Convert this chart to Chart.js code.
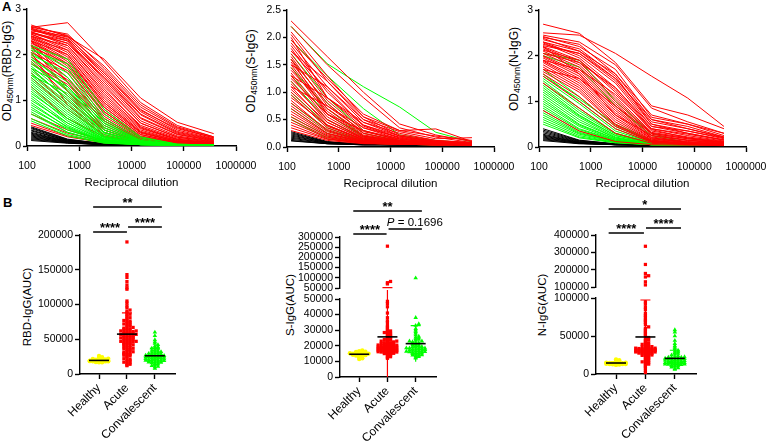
<!DOCTYPE html>
<html>
<head>
<meta charset="utf-8">
<script src="https://cdn.jsdelivr.net/npm/chart.js@4.4.1/dist/chart.umd.min.js"></script>
<style>
  html, body { margin: 0; padding: 0; background: #fff; }
  body { width: 766px; height: 441px; position: relative; overflow: hidden; font-family: "Liberation Sans", Arial, sans-serif; color: #000; }
  canvas { position: absolute; }
  .ytitle { position: absolute; white-space: nowrap; font-size: 12px; line-height: 1; transform: translate(-50%, -50%) rotate(-90deg); }
  .ytitle sub { font-size: 8.5px; vertical-align: -2px; }
  .btitle { font-size: 11.5px; }
  .letter { position: absolute; font-weight: bold; font-size: 13px; line-height: 1; }
</style>
</head>
<body>
<div class="letter" style="left:2px;top:0px">A</div>
<div class="letter" style="left:3px;top:196px">B</div>

<div class="ytitle" style="left:8px;top:71px">OD<sub>450nm</sub>(RBD-IgG)</div>
<div class="ytitle" style="left:252px;top:71px">OD<sub>450nm</sub>(S-IgG)</div>
<div class="ytitle" style="left:515px;top:69px">OD<sub>450nm</sub>(N-IgG)</div>
<div class="ytitle btitle" style="left:28px;top:307px">RBD-IgG(AUC)</div>
<div class="ytitle btitle" style="left:291px;top:305px">S-IgG(AUC)</div>
<div class="ytitle btitle" style="left:543px;top:305px">N-IgG(AUC)</div>

<canvas id="a1" width="260" height="195" style="left:0;top:0"></canvas>
<canvas id="a2" width="270" height="195" style="left:245px;top:0"></canvas>
<canvas id="a3" width="261" height="195" style="left:505px;top:0"></canvas>
<canvas id="b1" width="190" height="246" style="left:0;top:195px"></canvas>
<canvas id="b2top" width="190" height="100" style="left:260px;top:195px"></canvas>
<canvas id="b2bot" width="190" height="151" style="left:260px;top:290px"></canvas>
<canvas id="b3top" width="190" height="100" style="left:516px;top:195px"></canvas>
<canvas id="b3bot" width="190" height="151" style="left:516px;top:290px"></canvas>

<script>
// ---- data: dilution curves (OD450 at each reciprocal dilution) ----
const DILUTIONS = [120, 600, 3000, 15000, 75000, 375000];
const LOG_TICKS = [100, 1000, 10000, 100000, 1000000];

const RBD_RED = [
  [2.65,2.4,1.9,1.05,0.52,0.27], [2.6,2.7,1.85,0.95,0.45,0.2], [2.6,2.45,1.7,0.85,0.4,0.18],
  [2.58,2.38,1.65,0.8,0.35,0.16], [2.55,2.35,1.55,0.7,0.3,0.14], [2.55,2.3,1.5,0.62,0.26,0.12],
  [2.52,2.4,1.6,0.75,0.32,0.15], [2.5,2.25,1.4,0.55,0.22,0.1], [2.5,2.2,1.3,0.5,0.2,0.09],
  [2.48,2.3,1.45,0.6,0.25,0.11], [2.45,2.1,1.2,0.45,0.17,0.08], [2.45,2.15,1.25,0.42,0.15,0.07],
  [2.42,2.05,1.1,0.38,0.14,0.07], [2.4,2.2,1.35,0.5,0.19,0.09], [2.4,2.0,1.0,0.32,0.12,0.06],
  [2.38,1.95,0.95,0.3,0.1,0.05], [2.35,2.1,1.15,0.4,0.14,0.06], [2.35,1.9,0.9,0.28,0.1,0.05],
  [2.32,1.85,0.85,0.25,0.09,0.05], [2.3,2.0,1.05,0.35,0.12,0.06], [2.3,1.8,0.8,0.22,0.08,0.04],
  [2.28,1.75,0.75,0.2,0.07,0.04], [2.25,1.9,0.95,0.3,0.1,0.05], [2.22,1.7,0.7,0.18,0.07,0.04],
  [2.2,1.6,0.65,0.17,0.06,0.04], [2.18,1.8,0.85,0.25,0.08,0.04], [2.15,1.5,0.6,0.15,0.06,0.03],
  [2.1,1.4,0.55,0.14,0.05,0.03], [2.05,1.65,0.75,0.2,0.07,0.04], [2.0,1.3,0.5,0.12,0.05,0.03],
  [1.95,1.45,0.6,0.15,0.06,0.03], [1.9,1.2,0.45,0.11,0.04,0.03], [1.85,1.1,0.4,0.1,0.04,0.03],
  [1.8,1.35,0.55,0.13,0.05,0.03], [1.7,1.0,0.35,0.09,0.04,0.03], [1.6,0.9,0.3,0.08,0.04,0.03],
  [2.3,1.4,0.35,0.1,0.04,0.03], [2.2,1.2,0.3,0.08,0.04,0.03], [2.05,0.9,0.22,0.07,0.03,0.02],
  [1.5,0.8,0.25,0.07,0.03,0.02], [1.3,0.6,0.2,0.06,0.03,0.02], [0.7,0.35,0.12,0.05,0.03,0.02],
  [0.6,0.28,0.1,0.05,0.03,0.02], [0.5,0.22,0.08,0.04,0.03,0.02], [0.45,0.2,0.07,0.04,0.02,0.02],
  [2.62,2.42,1.75,0.9,0.42,0.2], [2.57,2.33,1.6,0.78,0.38,0.18], [2.47,2.25,1.5,0.68,0.28,0.13],
];
const RBD_GREEN = [
  [2.2,1.9,0.8,0.2,0.04,0.02], [2.15,1.7,0.6,0.15,0.03,0.02], [2.1,1.8,0.7,0.18,0.04,0.02],
  [2.05,1.5,0.5,0.12,0.03,0.02], [2.0,1.6,0.55,0.12,0.03,0.02], [1.95,1.3,0.4,0.1,0.03,0.02],
  [1.9,1.4,0.45,0.1,0.03,0.02], [1.85,1.2,0.35,0.08,0.03,0.02], [1.8,1.25,0.4,0.09,0.03,0.02],
  [1.75,1.1,0.3,0.07,0.02,0.02], [1.7,1.0,0.28,0.07,0.02,0.02], [1.65,1.05,0.3,0.07,0.02,0.02],
  [1.6,0.95,0.25,0.06,0.02,0.02], [1.55,0.9,0.22,0.06,0.02,0.02], [1.5,0.85,0.2,0.05,0.02,0.02],
  [1.45,0.8,0.2,0.05,0.02,0.02], [1.4,0.75,0.18,0.05,0.02,0.02], [1.35,0.7,0.17,0.05,0.02,0.02],
  [1.3,0.65,0.15,0.04,0.02,0.02], [1.25,0.6,0.14,0.04,0.02,0.02], [1.2,0.55,0.13,0.04,0.02,0.02],
  [1.15,0.6,0.15,0.04,0.02,0.02], [1.1,0.5,0.12,0.04,0.02,0.02], [1.05,0.45,0.11,0.04,0.02,0.02],
  [1.0,0.5,0.12,0.04,0.02,0.02], [0.95,0.4,0.1,0.03,0.02,0.02], [0.9,0.42,0.1,0.03,0.02,0.02],
  [0.85,0.35,0.09,0.03,0.02,0.02], [0.8,0.38,0.1,0.03,0.02,0.02], [0.75,0.3,0.08,0.03,0.02,0.02],
  [0.7,0.3,0.08,0.03,0.02,0.02], [0.6,0.25,0.07,0.03,0.02,0.02], [0.55,0.22,0.06,0.03,0.02,0.02],
  [1.55,1.15,0.35,0.08,0.03,0.02], [1.7,1.3,0.5,0.1,0.03,0.02],
];
const RBD_BLACK = [
  [0.42,0.15,0.05,0.03,0.02,0.02], [0.4,0.14,0.05,0.03,0.02,0.02], [0.38,0.13,0.05,0.03,0.02,0.02],
  [0.35,0.12,0.04,0.03,0.02,0.02], [0.33,0.12,0.04,0.03,0.02,0.02], [0.3,0.11,0.04,0.03,0.02,0.02],
  [0.28,0.1,0.04,0.02,0.02,0.02], [0.26,0.1,0.04,0.02,0.02,0.02], [0.24,0.09,0.03,0.02,0.02,0.02],
  [0.22,0.09,0.03,0.02,0.02,0.02], [0.2,0.08,0.03,0.02,0.02,0.02], [0.18,0.08,0.03,0.02,0.02,0.02],
  [0.16,0.07,0.03,0.02,0.02,0.02], [0.14,0.07,0.03,0.02,0.02,0.02], [0.12,0.06,0.03,0.02,0.02,0.02],
];

const S_RED = [
  [2.3,1.65,1.0,0.42,0.22,0.1], [2.2,1.5,0.9,0.35,0.18,0.08], [2.1,1.3,0.55,0.3,0.33,0.1],
  [2.05,1.2,0.5,0.28,0.15,0.17], [1.9,1.1,0.45,0.25,0.12,0.08], [1.85,1.0,0.4,0.2,0.1,0.07],
  [1.8,0.9,0.35,0.18,0.1,0.06], [1.75,1.05,0.38,0.16,0.09,0.06], [1.7,0.85,0.3,0.15,0.08,0.05],
  [1.65,0.75,0.28,0.14,0.08,0.05], [1.6,0.8,0.25,0.12,0.07,0.05], [1.55,0.7,0.22,0.11,0.07,0.05],
  [1.5,0.65,0.2,0.1,0.06,0.05], [1.45,0.6,0.2,0.1,0.06,0.04], [1.4,0.7,0.25,0.11,0.06,0.04],
  [1.35,0.55,0.18,0.09,0.06,0.04], [1.3,0.5,0.17,0.09,0.05,0.04], [1.25,0.6,0.2,0.1,0.06,0.04],
  [1.2,0.45,0.15,0.08,0.05,0.04], [1.15,0.5,0.16,0.08,0.05,0.04], [1.1,0.4,0.14,0.08,0.05,0.04],
  [1.05,0.45,0.15,0.08,0.05,0.04], [1.0,0.38,0.13,0.07,0.05,0.04], [0.95,0.35,0.12,0.07,0.05,0.04],
  [0.9,0.4,0.13,0.07,0.05,0.04], [0.85,0.3,0.11,0.07,0.05,0.04], [0.8,0.32,0.11,0.06,0.05,0.04],
  [0.75,0.28,0.1,0.06,0.05,0.04], [0.7,0.25,0.1,0.06,0.05,0.04], [0.65,0.24,0.09,0.06,0.04,0.04],
  [0.6,0.22,0.09,0.06,0.04,0.04], [0.55,0.2,0.08,0.06,0.04,0.04], [0.5,0.18,0.08,0.05,0.04,0.04],
  [0.45,0.17,0.07,0.05,0.04,0.04], [0.4,0.15,0.07,0.05,0.04,0.04], [0.35,0.14,0.07,0.05,0.04,0.04],
  [0.3,0.12,0.06,0.05,0.04,0.04], [1.95,1.25,0.6,0.3,0.2,0.12], [1.75,1.2,0.55,0.22,0.12,0.08],
  [1.5,1.1,0.5,0.2,0.1,0.07], [1.3,0.9,0.4,0.17,0.09,0.06], [1.6,0.6,0.3,0.12,0.07,0.05],
  [1.1,0.75,0.35,0.14,0.08,0.05], [2.0,0.9,0.45,0.2,0.1,0.06],
];
const S_GREEN = [
  [2.2,1.52,1.1,0.73,0.27,0.09], [1.95,1.3,0.7,0.22,0.12,0.07], [1.7,0.9,0.3,0.12,0.07,0.05],
  [1.6,0.8,0.25,0.1,0.06,0.05], [1.45,0.7,0.2,0.1,0.06,0.04], [1.3,0.6,0.18,0.09,0.05,0.04],
  [1.2,0.5,0.15,0.08,0.05,0.04], [1.0,0.4,0.12,0.07,0.05,0.04], [0.95,0.35,0.11,0.07,0.05,0.04],
  [0.8,0.3,0.1,0.06,0.05,0.04], [0.7,0.25,0.09,0.06,0.04,0.04], [0.55,0.2,0.08,0.05,0.04,0.04],
  [0.5,0.15,0.07,0.05,0.04,0.04],
];
const S_BLACK = [
  [0.28,0.1,0.05,0.04,0.04,0.04], [0.26,0.09,0.05,0.04,0.04,0.04], [0.24,0.09,0.05,0.04,0.04,0.04],
  [0.22,0.08,0.05,0.04,0.04,0.04], [0.2,0.08,0.05,0.04,0.04,0.04], [0.18,0.07,0.05,0.04,0.04,0.04],
  [0.16,0.07,0.04,0.04,0.04,0.04], [0.14,0.06,0.04,0.04,0.04,0.04], [0.12,0.06,0.04,0.04,0.04,0.04],
  [0.11,0.06,0.04,0.04,0.04,0.04],
];

const N_RED = [
  [2.69,2.49,1.85,0.9,0.7,0.4], [2.5,2.45,2.05,1.55,1.07,0.45], [2.45,2.3,1.8,0.85,0.55,0.3],
  [2.42,2.2,1.7,0.65,0.5,0.25], [2.4,2.25,1.6,0.6,0.45,0.22], [2.38,2.1,1.5,0.55,0.4,0.2],
  [2.35,2.15,1.55,0.5,0.35,0.18], [2.3,2.0,1.4,0.45,0.3,0.16], [2.28,1.95,1.3,0.4,0.28,0.15],
  [2.25,2.05,1.45,0.5,0.3,0.15], [2.2,1.9,1.2,0.35,0.22,0.12], [2.18,1.85,1.1,0.32,0.2,0.11],
  [2.15,1.8,1.05,0.3,0.18,0.1], [2.12,1.9,1.25,0.38,0.2,0.1], [2.1,1.75,1.0,0.28,0.15,0.09],
  [2.05,1.7,0.95,0.25,0.14,0.08], [2.0,1.65,0.9,0.22,0.12,0.08], [1.98,1.6,0.85,0.2,0.11,0.07],
  [1.95,1.55,0.8,0.2,0.1,0.07], [1.9,1.5,0.75,0.18,0.1,0.06], [1.88,1.45,0.7,0.17,0.09,0.06],
  [1.85,1.4,0.65,0.15,0.08,0.05], [1.8,1.35,0.6,0.14,0.08,0.05], [1.75,1.3,0.55,0.13,0.07,0.05],
  [1.7,1.25,0.5,0.12,0.07,0.05], [1.65,1.2,0.48,0.12,0.06,0.04], [1.6,1.1,0.45,0.11,0.06,0.04],
  [1.55,1.0,0.4,0.1,0.06,0.04], [1.4,0.85,0.3,0.08,0.05,0.04], [0.8,0.35,0.12,0.05,0.04,0.03],
  [2.2,1.6,0.7,0.25,0.15,0.1], [2.3,2.1,1.6,0.7,0.5,0.3], [2.05,1.85,1.3,0.45,0.35,0.2],
  [1.9,1.7,1.15,0.4,0.25,0.13], [1.7,1.5,0.9,0.3,0.18,0.1], [2.22,2.05,1.5,0.6,0.4,0.22],
];
const N_GREEN = [
  [2.0,1.75,0.9,0.25,0.08,0.04], [2.05,1.9,1.0,0.3,0.08,0.04], [1.7,1.1,0.45,0.12,0.05,0.04],
  [1.6,1.0,0.4,0.1,0.05,0.04], [1.5,0.95,0.35,0.1,0.05,0.04], [1.45,0.85,0.3,0.09,0.05,0.04],
  [1.4,0.8,0.3,0.09,0.05,0.04], [1.35,0.75,0.28,0.08,0.05,0.04], [1.3,0.7,0.25,0.08,0.05,0.04],
  [1.25,0.68,0.25,0.08,0.04,0.04], [1.2,0.65,0.22,0.07,0.04,0.04], [1.15,0.6,0.2,0.07,0.04,0.04],
  [1.1,0.55,0.2,0.07,0.04,0.04], [1.05,0.5,0.18,0.06,0.04,0.04], [1.0,0.48,0.17,0.06,0.04,0.04],
  [0.95,0.45,0.15,0.06,0.04,0.04], [0.9,0.4,0.15,0.06,0.04,0.04], [0.85,0.38,0.14,0.05,0.04,0.04],
  [0.8,0.35,0.13,0.05,0.04,0.04], [0.75,0.32,0.12,0.05,0.04,0.04], [0.7,0.3,0.12,0.05,0.04,0.04],
  [0.65,0.28,0.11,0.05,0.04,0.04], [0.6,0.25,0.1,0.05,0.04,0.04], [0.55,0.22,0.1,0.05,0.04,0.04],
  [0.5,0.2,0.09,0.05,0.04,0.04], [1.55,1.05,0.5,0.15,0.06,0.04],
];
const N_BLACK = [
  [0.4,0.15,0.07,0.05,0.04,0.04], [0.37,0.14,0.07,0.05,0.04,0.04], [0.34,0.13,0.06,0.05,0.04,0.04],
  [0.31,0.12,0.06,0.05,0.04,0.04], [0.28,0.11,0.06,0.04,0.04,0.04], [0.26,0.1,0.06,0.04,0.04,0.04],
  [0.24,0.1,0.05,0.04,0.04,0.04], [0.22,0.09,0.05,0.04,0.04,0.04], [0.2,0.09,0.05,0.04,0.04,0.04],
  [0.18,0.08,0.05,0.04,0.04,0.04], [0.16,0.08,0.05,0.04,0.04,0.04], [0.14,0.07,0.05,0.04,0.04,0.04],
];

// ---- data: AUC per subject ----
const CATEGORIES = ['Healthy', 'Acute', 'Convalescent'];

const RBD_HEALTHY = [17000,17500,17800,18000,18200,18400,18500,18600,18800,19000,19000,19200,19400,19500,19600,
  19800,20000,20200,20500,21000,21500,22000,23000,24000,26000,16800,17200,18100,18900,19300];
const RBD_ACUTE = [190000,143000,139000,133000,128000,124000,122000,105000,102000,98000,95000,92000,90000,88000,
  86000,85000,83000,81000,80000,78000,77000,76000,75000,74000,73000,72000,71000,70000,69000,68000,67000,66000,
  65000,64000,63500,63000,62000,61000,60500,60000,59000,58500,58000,57000,56000,55500,55000,54000,53000,52500,
  52000,51000,50000,49500,49000,48000,47000,46500,46000,45000,44000,43000,42000,41000,40000,39000,38000,37000,
  36000,35000,34000,33000,32000,31000,30000,29000,28000,27000,26000,25000,24000,22000,21000,20000,19000,18000,
  17000,16000,15000,14000,13000,12000,65000,62000,58000,55000,52000,48000,45000,42000,38000,35000,30000,28000,
  60000,57000,54000,50000,47000,44000];
const RBD_CONV = [60000,55000,49000,46000,44000,42000,40000,39000,38000,37000,36000,35000,34000,33000,32500,
  32000,31000,30500,30000,29500,29000,28500,28000,27500,27000,26500,26000,25500,25000,24500,24000,23500,23000,
  22500,22000,21500,21000,20500,20000,19500,19000,18500,18000,17500,17000,16500,16000,15500,15000,14000,13000,
  12000,11000,10000,8000,24000,23000,22000,26000,25000,21000,20000,27000,19000,18000];

const S_HEALTHY = [12000,13000,13500,14000,14200,14500,14700,15000,15200,15500,15800,16000,16500,17000,11500,
  13800,14800,15300,14400,13200,16200,14900];
const S_ACUTE = [255000,82000,76000,70000,48500,47000,45000,41000,38000,36000,35000,33000,32000,31000,30000,
  29500,29000,28500,28000,27500,27000,26500,26000,25500,25000,24500,24000,23500,23000,22500,22000,22000,21500,
  21000,21000,20500,20000,20000,19500,19500,19000,19000,18500,18500,18000,18000,17500,17500,17000,17000,16500,
  16000,16000,15500,15000,14500,14000,13500,13000,12500,12000,20000,21000,19000,18000,22000,23000,24000,17000,16000,
  17200,17800,18200,18800,19200,19800,20200,20800,16400,16800,17600,18400,19600,18600,17400,16200,15800,15200,
  20400,21200,19400,18300,17700,16600,15400,14800,19100,18900];
const S_CONV = [99000,38000,34000,33000,31000,30000,29000,28000,27000,26000,25500,25000,24500,24000,23500,23000,
  22500,22000,21500,21000,20500,20000,19500,19000,18500,18000,17500,17000,16500,16000,15500,15000,14500,14000,
  13500,13000,12500,12000,19000,20000,21000,18000,17000,16000,22000,23000,18500,19500,
  15200,16400,17200,14600,18200,15800,16800,14200,17600,15600,16200,18600,13800];

const N_HEALTHY = [12000,12500,13000,13000,13500,13500,14000,14000,14500,15000,15500,16000,17000,18000,19000,
  12800,13200,13800,14200,14800];
const N_ACUTE = [335000,230000,178000,165000,158000,130000,112000,95000,92000,88000,85000,80000,77000,75000,72000,
  70000,68000,65000,62000,60000,58000,56000,54000,52000,50000,48000,46000,45000,44000,42000,41000,40000,39000,
  38000,37000,36000,35000,34000,33000,33000,32000,32000,31000,31000,30000,30000,29000,29000,28000,28000,27000,
  26000,25000,24000,23000,22000,21000,20000,19000,18000,17000,16000,15000,14000,13000,12000,10000,8000,5000,2000,
  33000,31000,30000,34000,29000,32000,30500,31500,32500,29500,28500,27500,26500,33500,34500,30200,31800,25500,
  24500,35500,28800];
const N_CONV = [58000,55000,50000,44000,40000,37000,35000,33000,31000,30000,29000,28000,27000,26000,25000,24000,
  23000,22500,22000,21500,21000,20500,20000,19500,19000,18500,18000,17500,17000,16500,16000,15500,15000,14500,
  14000,13500,13000,12500,12000,11500,11000,10500,10000,9000,8000,7000,6000,18000,17000,16000,15000,14000,20000,
  19000,21000,13000,12000,22000,14200,13600,15400,16800,12400,17400,15800,14800];

// ---- styling ----
const RED = '#ff0000';
const GREEN = '#00ff00';
const YELLOW = '#ffff00';
const BLACK = '#000000';

Chart.defaults.font.family = '"Liberation Sans", Arial, sans-serif';
Chart.defaults.color = '#000';
Chart.defaults.animation = false;
Chart.defaults.plugins.legend.display = false;
Chart.defaults.plugins.tooltip.enabled = false;

function noPad(s) {
  s.paddingLeft = 0;
  s.paddingRight = 0;
  s.paddingTop = 0;
  s.paddingBottom = 0;
}

const axisGrid = { drawOnChartArea: false, tickLength: 5, tickColor: '#000', tickWidth: 1.4 };
const axisBorder = { color: '#000', width: 1.4 };

function curveSets(rows, color) {
  return rows.map((ys) => ({
    data: ys.map((y, i) => ({ x: DILUTIONS[i], y: y })),
    showLine: true,
    borderColor: color,
    borderWidth: 1,
    pointRadius: 0,
    tension: 0,
  }));
}

function curveChart(id, groups, yMax, yStep, yWidth, pad, fmt) {
  // first dataset ends up on top, so list front-most group first
  const datasets = [];
  groups.forEach((g) => datasets.push(...curveSets(g.rows, g.color)));
  return new Chart(document.getElementById(id), {
    type: 'scatter',
    data: { datasets },
    options: {
      responsive: false,
      layout: { padding: pad },
      scales: {
        x: {
          type: 'logarithmic',
          min: 100,
          max: 1000000,
          afterBuildTicks: (s) => { s.ticks = LOG_TICKS.map((v) => ({ value: v })); },
          ticks: { callback: (v) => String(v), autoSkip: false, maxRotation: 0, font: { size: 10.5 }, padding: 9 },
          grid: axisGrid,
          border: axisBorder,
          title: { display: true, text: 'Reciprocal dilution', font: { size: 11.5 }, padding: { top: 4, bottom: 4 } },
          afterFit: (s) => { s.height = 48; noPad(s); },
        },
        y: {
          min: 0,
          max: yMax,
          ticks: { stepSize: yStep, font: { size: 10.5 }, padding: 2, callback: fmt },
          grid: Object.assign({}, axisGrid, { tickLength: 4 }),
          border: axisBorder,
          afterFit: (s) => { s.width = yWidth; noPad(s); },
        },
      },
    },
  });
}

curveChart('a1', [
  { rows: RBD_GREEN, color: GREEN },
  { rows: RBD_RED, color: RED },
  { rows: RBD_BLACK, color: BLACK },
], 3, 1, 27, { top: 9, right: 24, left: 0, bottom: 1 }, (v) => String(v));

curveChart('a2', [
  { rows: S_RED, color: RED },
  { rows: S_GREEN, color: GREEN },
  { rows: S_BLACK, color: BLACK },
], 2.5, 0.5, 42, { top: 10, right: 21, left: 0, bottom: 0 }, (v) => v.toFixed(1));

curveChart('a3', [
  { rows: N_RED, color: RED },
  { rows: N_GREEN, color: GREEN },
  { rows: N_BLACK, color: BLACK },
], 3, 1, 34, { top: 10, right: 20, left: 0, bottom: 0 }, (v) => String(v));

// ---- dot plots ----
function swarmOffsets(values, binOf, step) {
  const counts = {};
  const offs = new Array(values.length);
  const order = values.map((v, i) => i).sort((a, b) => values[a] - values[b]);
  order.forEach((i) => {
    const key = binOf(values[i]);
    const k = counts[key] || 0;
    counts[key] = k + 1;
    const m = k % 7;
    offs[i] = m === 0 ? 0 : (m % 2 ? 1 : -1) * Math.ceil(m / 2) * step;
  });
  return offs;
}

function meanSd(values) {
  const n = values.length;
  const mean = values.reduce((s, v) => s + v, 0) / n;
  const sd = Math.sqrt(values.reduce((s, v) => s + (v - mean) ** 2, 0) / (n - 1));
  return { mean, sd };
}

const GROUP_STYLE = [
  { color: YELLOW, pointStyle: 'circle', radius: 2.2 },
  { color: RED, pointStyle: 'rect', radius: 2.3 },
  { color: GREEN, pointStyle: 'triangle', radius: 2.6 },
];

function dotSets(groups, keep, binOf) {
  return groups.map((vals, gi) => {
    const offs = swarmOffsets(vals, binOf, 0.11);
    const pts = [];
    vals.forEach((v, i) => { if (keep(v)) pts.push({ x: gi + offs[i], y: v }); });
    const st = GROUP_STYLE[gi];
    return {
      data: pts,
      pointStyle: st.pointStyle,
      pointRadius: st.radius,
      backgroundColor: st.color,
      borderColor: st.color,
      borderWidth: 0,
      clip: false,
    };
  });
}

function statsPlugin(groups, gapAbove) {
  const stats = groups.map((vals) => meanSd(vals));
  return {
    id: 'meanSd',
    beforeDatasetsDraw(chart) {
      const { ctx, chartArea: a, scales: { x, y } } = chart;
      ctx.save();
      stats.forEach((st, gi) => {
        const lo = Math.max(st.mean - st.sd, y.min);
        const hi = st.mean + st.sd;
        if (lo > y.max || hi < y.min) return;
        const cx = x.getPixelForValue(gi);
        const yLo = y.getPixelForValue(lo);
        const yHi = hi > y.max ? a.top - gapAbove : y.getPixelForValue(hi);
        ctx.strokeStyle = GROUP_STYLE[gi].color;
        ctx.lineWidth = 1.2;
        ctx.beginPath();
        ctx.moveTo(cx, yLo);
        ctx.lineTo(cx, yHi);
        if (hi <= y.max) {
          ctx.moveTo(cx - 5, yHi);
          ctx.lineTo(cx + 5, yHi);
        }
        ctx.stroke();
      });
      ctx.restore();
    },
    afterDatasetsDraw(chart) {
      const { ctx, scales: { x, y } } = chart;
      ctx.save();
      stats.forEach((st, gi) => {
        if (st.mean < y.min || st.mean > y.max) return;
        const cx = x.getPixelForValue(gi);
        const my = y.getPixelForValue(st.mean);
        ctx.strokeStyle = BLACK;
        ctx.lineWidth = 1.6;
        ctx.beginPath();
        ctx.moveTo(cx - 10, my);
        ctx.lineTo(cx + 10, my);
        ctx.stroke();
      });
      ctx.restore();
    },
  };
}

function sigPlugin(items) {
  return {
    id: 'sig',
    afterDraw(chart) {
      const { ctx, chartArea: a, scales: { x } } = chart;
      ctx.save();
      items.forEach((it) => {
        const x1 = x.getPixelForValue(it.x1);
        const x2 = x.getPixelForValue(it.x2);
        const by = a.top + it.dy;
        ctx.strokeStyle = BLACK;
        ctx.lineWidth = 1.6;
        ctx.beginPath();
        ctx.moveTo(x1, by);
        ctx.lineTo(x2, by);
        ctx.stroke();
        ctx.fillStyle = BLACK;
        ctx.textBaseline = 'alphabetic';
        if (it.stars) {
          ctx.font = 'bold 13px "Liberation Sans", Arial, sans-serif';
          ctx.textAlign = 'center';
          ctx.fillText(it.stars, (x1 + x2) / 2, by - 0.5);
        }
        if (it.p) {
          const tx = x.getPixelForValue(it.px);
          const ty = a.top + it.pdy;
          ctx.textAlign = 'left';
          ctx.font = 'italic 11.5px "Liberation Sans", Arial, sans-serif';
          ctx.fillText('P', tx, ty);
          const w = ctx.measureText('P').width;
          ctx.font = '11.5px "Liberation Sans", Arial, sans-serif';
          ctx.fillText(' = ' + it.p, tx + w, ty);
        }
      });
      ctx.restore();
    },
  };
}

function dotChart(id, opts) {
  const showX = opts.showX;
  return new Chart(document.getElementById(id), {
    type: 'scatter',
    data: { datasets: dotSets(opts.groups, opts.keep, opts.binOf) },
    options: {
      responsive: false,
      layout: { padding: opts.pad },
      scales: {
        x: {
          type: 'linear',
          display: showX,
          min: -0.68,
          max: 2.72,
          afterBuildTicks: (s) => { s.ticks = CATEGORIES.map((c, i) => ({ value: i })); },
          ticks: {
            callback: (v) => CATEGORIES[v],
            autoSkip: false,
            minRotation: 45,
            maxRotation: 45,
            font: { size: 12 },
            padding: 2,
          },
          grid: axisGrid,
          border: axisBorder,
          afterFit: (s) => { s.height = showX ? opts.xHeight : 0; noPad(s); },
        },
        y: {
          min: opts.yMin,
          max: opts.yMax,
          ticks: { stepSize: opts.yStep, autoSkip: false, font: { size: 10.5 }, padding: 2, callback: (v) => String(v) },
          grid: axisGrid,
          border: axisBorder,
          afterFit: (s) => { s.width = 80; noPad(s); },
        },
      },
    },
    plugins: opts.plugins,
  });
}

// RBD, single axis
const rbdGroups = [RBD_HEALTHY, RBD_ACUTE, RBD_CONV];
dotChart('b1', {
  groups: rbdGroups,
  keep: () => true,
  binOf: (v) => Math.floor(v / 2500),
  pad: { top: 40, right: 15, left: 0, bottom: 0 },
  xHeight: 67,
  showX: true,
  yMin: 0, yMax: 200000, yStep: 50000,
  plugins: [
    statsPlugin(rbdGroups, 0),
    sigPlugin([
      { x1: -0.21, x2: 2.25, dy: -28, stars: '**' },
      { x1: -0.21, x2: 1.0, dy: -3, stars: '****' },
      { x1: 1.04, x2: 2.25, dy: -8, stars: '****' },
    ]),
  ],
});

// S, broken axis at 50000
const sGroups = [S_HEALTHY, S_ACUTE, S_CONV];
const sBin = (v) => (v > 50000 ? 'u' + Math.floor(v / 15000) : 'l' + Math.floor(v / 1100));
dotChart('b2top', {
  groups: sGroups,
  keep: (v) => v > 50000,
  binOf: sBin,
  pad: { top: 42, right: 14, left: 0, bottom: 7 },
  showX: false,
  yMin: 50000, yMax: 300000, yStep: 50000,
  plugins: [
    statsPlugin(sGroups, 0),
    sigPlugin([
      { x1: -0.21, x2: 2.22, dy: -26, stars: '**' },
      { x1: -0.21, x2: 0.97, dy: -3, stars: '****' },
      { x1: 1.04, x2: 2.22, dy: -8, p: '0.1696', px: 0.98, pdy: -11 },
    ]),
  ],
});
dotChart('b2bot', {
  groups: sGroups,
  keep: (v) => v <= 50000,
  binOf: sBin,
  pad: { top: 9, right: 14, left: 0, bottom: 0 },
  xHeight: 64,
  showX: true,
  yMin: 0, yMax: 50000, yStep: 10000,
  plugins: [statsPlugin(sGroups, 11)],
});

// N, broken axis at 100000
const nGroups = [N_HEALTHY, N_ACUTE, N_CONV];
const nBin = (v) => (v > 100000 ? 'u' + Math.floor(v / 17000) : 'l' + Math.floor(v / 2300));
dotChart('b3top', {
  groups: nGroups,
  keep: (v) => v > 100000,
  binOf: nBin,
  pad: { top: 40, right: 10, left: 0, bottom: 8 },
  showX: false,
  yMin: 100000, yMax: 400000, yStep: 100000,
  plugins: [
    statsPlugin(nGroups, 0),
    sigPlugin([
      { x1: -0.25, x2: 2.21, dy: -26, stars: '*' },
      { x1: -0.25, x2: 0.95, dy: -2, stars: '****' },
      { x1: 1.02, x2: 2.21, dy: -7, stars: '****' },
    ]),
  ],
});
dotChart('b3bot', {
  groups: nGroups,
  keep: (v) => v <= 100000,
  binOf: nBin,
  pad: { top: 8, right: 10, left: 0, bottom: 0 },
  xHeight: 67,
  showX: true,
  yMin: 0, yMax: 100000, yStep: 50000,
  plugins: [statsPlugin(nGroups, 11)],
});
</script>
</body>
</html>
